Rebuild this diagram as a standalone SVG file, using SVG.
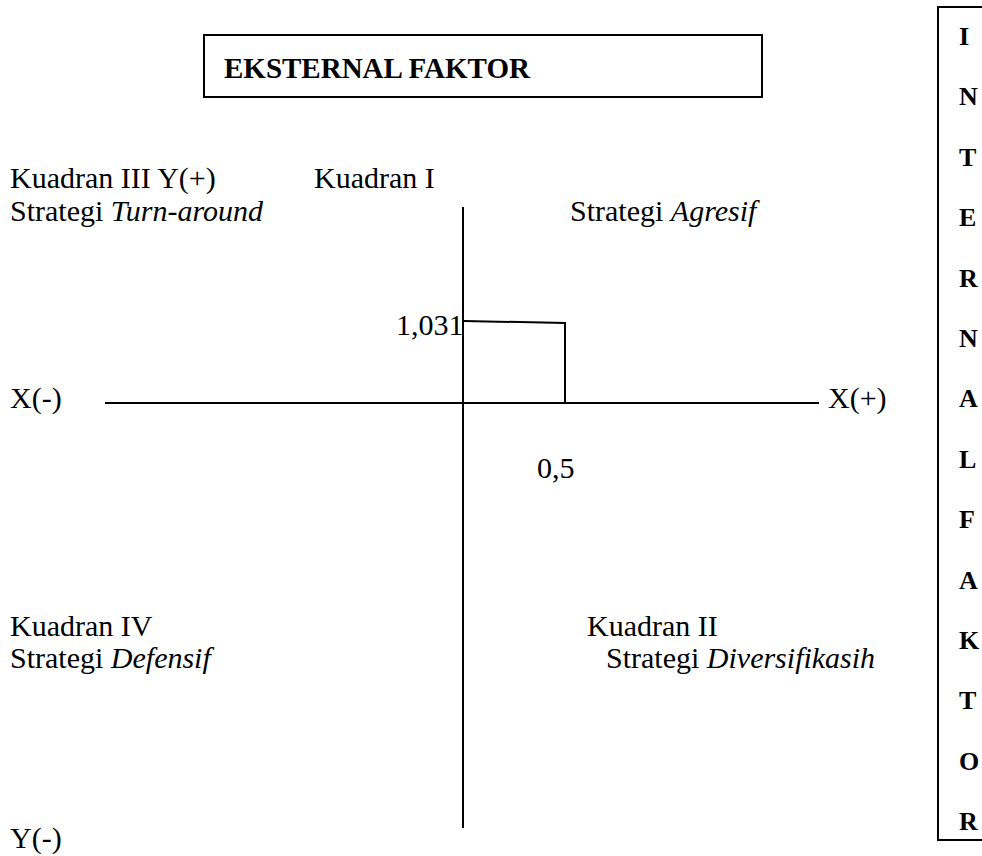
<svg xmlns="http://www.w3.org/2000/svg" width="982" height="856" viewBox="0 0 982 856">
<style>
.t{font-family:"Liberation Serif","Times New Roman",serif;font-size:30px;fill:#000}
.b{font-family:"Liberation Serif","Times New Roman",serif;font-weight:bold;fill:#000}
.ln{stroke:#000;stroke-width:2;fill:none}
</style>
<rect width="982" height="856" fill="#fff"/>
<g id="eksternal">
<rect x="204" y="35" width="558" height="62" class="ln"/>
<text x="224" y="78" class="b" font-size="29">EKSTERNAL FAKTOR</text>
</g>
<g id="internal">
<polyline points="990,7 938,7 938,840 990,840" class="ln"/>
<g class="b" font-size="26">
<text x="959" y="45">I</text>
<text x="959" y="105">N</text>
<text x="959" y="166">T</text>
<text x="959" y="226">E</text>
<text x="959" y="287">R</text>
<text x="959" y="347">N</text>
<text x="959" y="407">A</text>
<text x="959" y="468">L</text>
<text x="959" y="528">F</text>
<text x="959" y="589">A</text>
<text x="959" y="649">K</text>
<text x="959" y="709">T</text>
<text x="959" y="770">O</text>
<text x="959" y="830">R</text>
</g>
</g>
<g id="connectors">
<line x1="463" y1="207" x2="463" y2="828" class="ln"/>
<line x1="105" y1="403" x2="819" y2="403" class="ln"/>
<polyline points="464,321 565,323 565,403" class="ln"/>
</g>
<g id="labels">
<text x="10" y="188" class="t">Kuadran III Y(+)</text>
<text x="314" y="188" class="t">Kuadran I</text>
<text x="10" y="221" class="t">Strategi <tspan font-style="italic">Turn-around</tspan></text>
<text x="570" y="221" class="t">Strategi <tspan font-style="italic">Agresif</tspan></text>
<text x="396" y="335" class="t">1,031</text>
<text x="10" y="408" class="t">X(-)</text>
<text x="828" y="408" class="t">X(+)</text>
<text x="537" y="478" class="t">0,5</text>
<text x="10" y="636" class="t">Kuadran IV</text>
<text x="10" y="668" class="t">Strategi <tspan font-style="italic">Defensif</tspan></text>
<text x="587" y="636" class="t">Kuadran II</text>
<text x="606" y="668" class="t">Strategi <tspan font-style="italic">Diversifikasih</tspan></text>
<text x="10" y="848" class="t">Y(-)</text>
</g>
</svg>
